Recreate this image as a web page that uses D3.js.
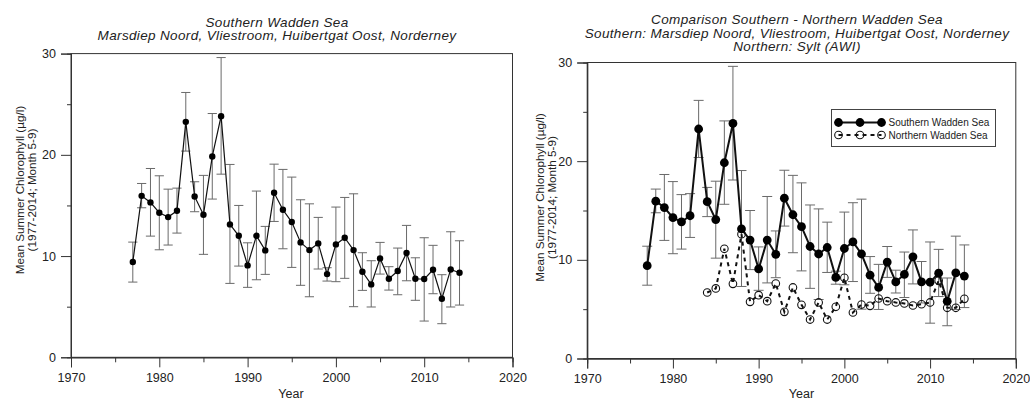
<!DOCTYPE html>
<html>
<head>
<meta charset="utf-8">
<script src="https://cdn.jsdelivr.net/npm/d3@7"></script>
<style>
  html, body { margin: 0; padding: 0; background: #fff; }
  svg { display: block; font-family: "Liberation Sans", Arial, sans-serif; }
</style>
</head>
<body>
<svg id="chart" width="1030" height="401"></svg>
<script>
// ---- data ----
const years = [1977,1978,1979,1980,1981,1982,1983,1984,1985,1986,1987,1988,1989,1990,1991,1992,1993,1994,1995,1996,1997,1998,1999,2000,2001,2002,2003,2004,2005,2006,2007,2008,2009,2010,2011,2012,2013,2014];
const southMean = [9.41,15.95,15.3,14.28,13.85,14.47,23.26,15.89,14.08,19.84,23.82,13.13,12.0,9.08,12.0,10.56,16.25,14.57,13.36,11.35,10.59,11.25,8.22,11.15,11.81,10.59,8.45,7.2,9.77,7.76,8.52,10.3,7.76,7.73,8.65,5.79,8.68,8.35];
const southUpper = [11.38,17.17,18.65,17.93,16.61,16.71,26.16,17.34,17.97,24.08,29.61,19.05,15.0,11.31,16.42,12.93,19.08,18.56,17.8,15.56,15.16,13.82,8.85,14.84,15.79,16.15,10.33,9.54,11.35,8.95,10.79,13.03,9.83,11.81,11.06,8.16,12.4,11.51];
const southLower = [7.43,14.77,11.97,10.62,11.09,12.27,20.37,14.38,10.17,15.63,18.09,7.3,9.01,6.91,7.66,8.19,13.42,10.72,8.88,7.11,5.98,8.72,7.53,7.47,7.8,5.0,6.61,4.97,8.22,6.64,6.18,7.56,5.63,3.58,6.28,3.32,4.97,5.16];
const northYears = [1984,1985,1986,1987,1988,1989,1990,1991,1992,1993,1994,1995,1996,1997,1998,1999,2000,2001,2002,2003,2004,2005,2006,2007,2008,2009,2010,2011,2012,2013,2014];
const northMean = [6.69,7.1,11.12,7.57,12.6,5.74,6.42,5.81,7.6,4.73,7.2,5.44,3.95,5.68,3.95,5.24,8.18,4.66,5.47,5.34,6.08,5.81,5.68,5.58,5.37,5.5,5.68,7.9,5.14,5.14,6.05];
const xTicks = [1970,1980,1990,2000,2010,2020];
const xMinor = [1975,1985,1995,2005,2015];
const yTicks = [0,10,20,30];
const yMinor = [5,15,25];
const leftTitle = ["Southern Wadden Sea", "Marsdiep Noord, Vliestroom, Huibertgat Oost, Norderney"];
const rightTitle = ["Comparison Southern - Northern Wadden Sea", "Southern: Marsdiep Noord, Vliestroom, Huibertgat Oost, Norderney", "Northern: Sylt (AWI)"];
const yLabel = ["Mean Summer Chlorophyll (µg/l)", "(1977-2014; Month 5-9)"];
const xLabel = "Year";
const legendLabels = ["Southern Wadden Sea", "Northern Wadden Sea"];

const south = years.map((y, i) => ({year: y, v: southMean[i], hi: southUpper[i], lo: southLower[i]}));
const north = northYears.map((y, i) => ({year: y, v: northMean[i]}));

const svg = d3.select("#chart");
const axisColor = "#333";

function panel(cfg) {
  const x = d3.scaleLinear().domain([1970, 2020]).range([cfg.x0, cfg.x1]);
  const y = d3.scaleLinear().domain([0, 30]).range([cfg.y0, cfg.y1]);
  const g = svg.append("g");

  // frame
  g.append("rect").attr("x", cfg.x0).attr("y", cfg.y1)
    .attr("width", cfg.x1 - cfg.x0).attr("height", cfg.y0 - cfg.y1)
    .attr("fill", "none").attr("stroke", axisColor).attr("stroke-width", 1);

  // axes
  const xa = g.append("g").attr("transform", `translate(0,${cfg.y0})`)
    .call(d3.axisBottom(x).tickValues(xTicks).tickFormat(d3.format("d")).tickSize(10).tickPadding(6));
  const xm = g.append("g").attr("transform", `translate(0,${cfg.y0})`)
    .call(d3.axisBottom(x).tickValues(xMinor).tickFormat("").tickSize(5));
  const ya = g.append("g").attr("transform", `translate(${cfg.x0},0)`)
    .call(d3.axisLeft(y).tickValues(yTicks).tickSize(10).tickPadding(5));
  const ym = g.append("g").attr("transform", `translate(${cfg.x0},0)`)
    .call(d3.axisLeft(y).tickValues(yMinor).tickFormat("").tickSize(4));
  [xa, xm, ya, ym].forEach(a => {
    a.select(".domain").attr("stroke", axisColor);
    a.selectAll(".tick line").attr("stroke", axisColor);
    a.selectAll(".tick text").attr("fill", "#222").style("font-size", "12.5px")
      .style("font-family", '"Liberation Sans", Arial, sans-serif');
  });

  // titles
  cfg.title.forEach((t, i) => {
    g.append("text").attr("x", cfg.titleX).attr("y", cfg.titleY[i])
      .attr("text-anchor", "middle").style("font-style", "italic")
      .style("font-size", "13.5px").style("letter-spacing", "0.35px")
      .attr("fill", "#222").text(t);
  });

  // y label
  yLabel.forEach((t, i) => {
    g.append("text")
      .attr("transform", `translate(${cfg.ylabX[i]},${cfg.ylabY}) rotate(-90)`)
      .attr("text-anchor", "middle").attr("dominant-baseline", "central")
      .style("font-size", "11.7px").attr("fill", "#222").text(t);
  });
  // x label
  g.append("text").attr("x", cfg.xlabX).attr("y", 398)
    .attr("text-anchor", "middle").style("font-size", "12.5px").attr("fill", "#222").text(xLabel);

  // error bars
  const cap = cfg.cap;
  const eb = g.append("g").attr("stroke", "#6a6a6a").attr("stroke-width", 1).attr("fill", "none");
  eb.selectAll("line.v").data(south).join("line")
    .attr("x1", d => x(d.year)).attr("x2", d => x(d.year))
    .attr("y1", d => y(d.hi)).attr("y2", d => y(d.lo));
  eb.selectAll("line.hi").data(south).join("line")
    .attr("x1", d => x(d.year) - cap).attr("x2", d => x(d.year) + cap)
    .attr("y1", d => y(d.hi)).attr("y2", d => y(d.hi));
  eb.selectAll("line.lo").data(south).join("line")
    .attr("x1", d => x(d.year) - cap).attr("x2", d => x(d.year) + cap)
    .attr("y1", d => y(d.lo)).attr("y2", d => y(d.lo));

  const line = d3.line().x(d => x(d.year)).y(d => y(d.v));

  if (cfg.north) {
    g.append("path").datum(north).attr("d", line)
      .attr("fill", "none").attr("stroke", "#111").attr("stroke-width", 2)
      .attr("stroke-dasharray", "4,4");
    g.append("g").selectAll("circle").data(north).join("circle")
      .attr("cx", d => x(d.year)).attr("cy", d => y(d.v)).attr("r", 3.8)
      .attr("fill", "none").attr("stroke", "#111").attr("stroke-width", 1.1);
  }

  g.append("path").datum(south).attr("d", line)
    .attr("fill", "none").attr("stroke", "#111").attr("stroke-width", cfg.lw);
  g.append("g").selectAll("circle").data(south).join("circle")
    .attr("cx", d => x(d.year)).attr("cy", d => y(d.v)).attr("r", cfg.r)
    .attr("fill", "#000");

  if (cfg.north) {
    // legend
    const lg = g.append("g");
    lg.append("rect").attr("x", 831.5).attr("y", 109.5).attr("width", 164).attr("height", 37)
      .attr("fill", "#fff").attr("stroke", "#444").attr("stroke-width", 1);
    const mx = [838.5, 860, 881.5];
    const r1 = 122.5, r2 = 135;
    lg.append("line").attr("x1", mx[0]).attr("x2", mx[2]).attr("y1", r1).attr("y2", r1)
      .attr("stroke", "#111").attr("stroke-width", 2);
    mx.forEach(m => lg.append("circle").attr("cx", m).attr("cy", r1).attr("r", cfg.r).attr("fill", "#000"));
    lg.append("line").attr("x1", mx[0]).attr("x2", mx[2]).attr("y1", r2).attr("y2", r2)
      .attr("stroke", "#111").attr("stroke-width", 2).attr("stroke-dasharray", "4,4");
    mx.forEach(m => lg.append("circle").attr("cx", m).attr("cy", r2).attr("r", 3.8)
      .attr("fill", "none").attr("stroke", "#111").attr("stroke-width", 1.1));
    legendLabels.forEach((t, i) => {
      lg.append("text").attr("x", 888.5).attr("y", [r1, r2][i]).attr("dominant-baseline", "central")
        .style("font-size", "10px").attr("fill", "#222").text(t);
    });
  }
}

panel({x0: 71, x1: 512.5, y0: 357.3, y1: 53.6, cap: 4.6, r: 3.2, lw: 1.2,
  title: leftTitle, titleX: 277, titleY: [26.5, 40],
  ylabX: [19, 31.5], ylabY: 190, xlabX: 291, north: false});
panel({x0: 587.2, x1: 1015.8, y0: 358.5, y1: 62.5, cap: 5, r: 4.4, lw: 2,
  title: rightTitle, titleX: 797, titleY: [24, 37.5, 51],
  ylabX: [539, 551.5], ylabY: 197.5, xlabX: 801.5, north: true});
</script>
</body>
</html>
